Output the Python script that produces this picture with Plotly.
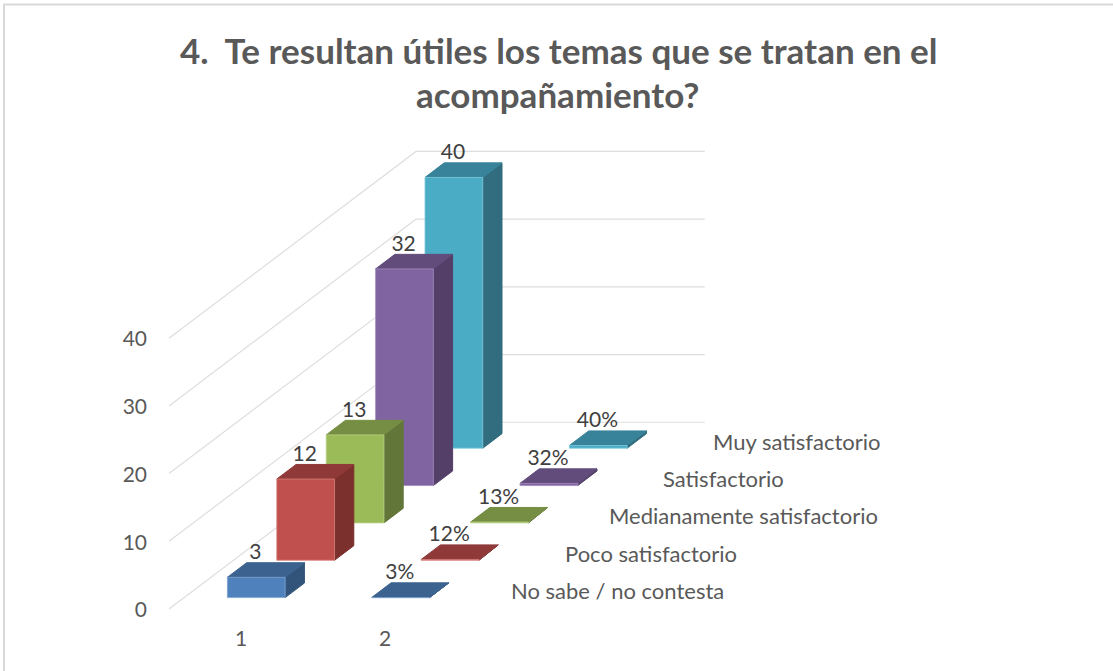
import plotly.graph_objects as go

TITLE_LINES = ["4.  Te resultan útiles los temas que se tratan en el", "acompañamiento?"]
series_names = ["No sabe / no contesta", "Poco satisfactorio", "Medianamente satisfactorio",
                "Satisfactorio", "Muy satisfactorio"]
categories = ["1", "2"]
values_cat1 = [3, 12, 13, 32, 40]
values_cat2 = [0.03, 0.12, 0.13, 0.32, 0.40]
labels_cat1 = ["3", "12", "13", "32", "40"]
labels_cat2 = ["3%", "12%", "13%", "32%", "40%"]
value_ticks = [0, 10, 20, 30, 40]

front_colors = ["#4F81BD", "#C0504D", "#9BBB59", "#8064A2", "#4BACC6"]
top_colors = ["#3C628F", "#8F3A38", "#768E43", "#614C7B", "#38839A"]
side_colors = ["#32547A", "#7C302E", "#62763A", "#533F68", "#316D7E"]
edge_colors = ["#7FA3D1", "#D5817E", "#BBD389", "#A38CC0", "#80CADD"]

# Oblique projection of the 3-D chart box onto the page
X0, Y0 = 169.0, 609.0
CAT_DX = 144.4
DEPTH_DX, DEPTH_DY = 49.4, -37.35
VAL_DY = -6.77
BAR_U = (0.30, 0.70)
BAR_V = (0.305, 0.695)


def project(u, v, z):
    return X0 + CAT_DX * u + DEPTH_DX * v, Y0 + DEPTH_DY * v + VAL_DY * z


fig = go.Figure()


def polygon(points, fill, line, width=1):
    xs, ys = zip(*points)
    fig.add_trace(go.Scatter(x=list(xs) + [xs[0]], y=list(ys) + [ys[0]], mode="lines",
                             fill="toself", fillcolor=fill,
                             line=dict(color=line, width=width),
                             hoverinfo="skip", showlegend=False))


# gridlines on the two walls
for t in value_ticks:
    pts = [project(0, 0, t), project(0, 5, t), project(2, 5, t)]
    fig.add_trace(go.Scatter(x=[p[0] for p in pts], y=[p[1] for p in pts], mode="lines",
                             line=dict(color="#DEDEDE", width=1.2),
                             hoverinfo="skip", showlegend=False))

# bars, back to front
for s in range(len(series_names) - 1, -1, -1):
    for c, vals in enumerate([values_cat1, values_cat2]):
        z = vals[s]
        u0, u1 = c + BAR_U[0], c + BAR_U[1]
        v0, v1 = s + BAR_V[0], s + BAR_V[1]
        polygon([project(u1, v0, 0), project(u1, v1, 0), project(u1, v1, z), project(u1, v0, z)],
                side_colors[s], side_colors[s])
        polygon([project(u0, v0, z), project(u0, v1, z), project(u1, v1, z), project(u1, v0, z)],
                top_colors[s], top_colors[s])
        polygon([project(u0, v0, 0), project(u1, v0, 0), project(u1, v0, z), project(u0, v0, z)],
                front_colors[s], edge_colors[s], 0.8)

TEXT_COLOR = "#404040"
AXIS_COLOR = "#595959"
FONT = "Lato, Carlito, sans-serif"
NUM_SIZE = 21
NAME_SIZE = 22
LBL_DX, LBL_DY = -10.5, -16.0


def add_text(xs, ys, text, color, size, pos):
    fig.add_trace(go.Scatter(x=xs, y=ys, mode="text", text=text, textposition=pos,
                             textfont=dict(color=color, size=size, family=FONT),
                             hoverinfo="skip", showlegend=False))


# data labels
for c, (vals, labs) in enumerate([(values_cat1, labels_cat1), (values_cat2, labels_cat2)]):
    pts = [project(c + 0.5, s + 0.5, vals[s]) for s in range(len(vals))]
    add_text([p[0] + LBL_DX for p in pts], [p[1] + LBL_DY for p in pts], labs,
             TEXT_COLOR, NUM_SIZE, "middle center")

# value axis labels
add_text([147] * len(value_ticks),
         [project(0, 0, t)[1] + 3 for t in value_ticks],
         [str(t) for t in value_ticks], AXIS_COLOR, NUM_SIZE, "middle left")

# category labels
add_text([241, 385], [641, 641], categories, AXIS_COLOR, NUM_SIZE, "middle center")

# depth axis labels
depth_label_x = [511, 565, 609, 663, 713]
depth_label_y = [593.5, 556, 518.5, 481, 444.5]
add_text(depth_label_x, depth_label_y, series_names, AXIS_COLOR, NAME_SIZE, "middle right")

title_y = [50, 94]
title_x = [558, 557]

fig.update_layout(
    width=1113, height=671,
    margin=dict(l=0, r=0, t=0, b=0),
    paper_bgcolor="white", plot_bgcolor="white",
    annotations=[dict(text="<b>" + t + "</b>", x=x, y=y, xref="x", yref="y",
                      xanchor="center", yanchor="middle", showarrow=False,
                      font=dict(family=FONT, size=35, color="#595959"))
                 for t, x, y in zip(TITLE_LINES, title_x, title_y)],
    xaxis=dict(range=[0, 1113], visible=False, fixedrange=True),
    yaxis=dict(range=[671, 0], visible=False, fixedrange=True),
    shapes=[dict(type="line", xref="x", yref="y", x0=4, x1=4, y0=4.5, y1=671,
                 line=dict(color="#D9D9D9", width=2)),
            dict(type="line", xref="x", yref="y", x0=3, x1=1113, y0=4.5, y1=4.5,
                 line=dict(color="#D9D9D9", width=2))],
)

fig.write_html("out.html", config=dict(displayModeBar=False),
               post_script="document.body.style.margin='0';")
